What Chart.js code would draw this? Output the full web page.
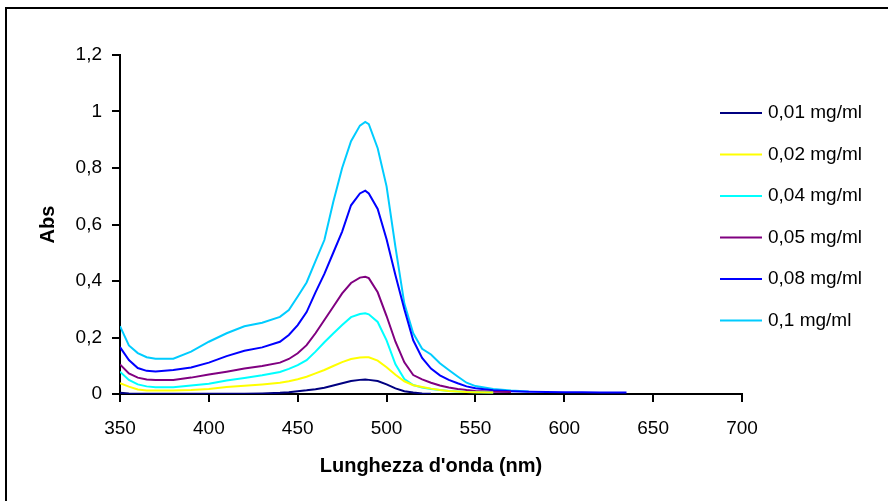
<!DOCTYPE html>
<html>
<head>
<meta charset="utf-8">
<script src="https://cdn.jsdelivr.net/npm/chart.js@4/dist/chart.umd.min.js"></script>
<style>
  body { margin: 0; background: #fff; overflow: hidden; }
  #wrap { position: relative; width: 888px; height: 501px; }
  #frame { position: absolute; left: 5px; top: 7px; width: 900px; height: 520px; border: 2px solid #000; }
  #myChart { position: absolute; left: 0; top: 0; }
</style>
</head>
<body>
<div id="wrap">
  <div id="frame"></div>
  <canvas id="myChart" width="888" height="501"></canvas>
</div>
<script>
// Spettri di assorbimento a varie concentrazioni
const wavelengths = [350,355,360,365,370,380,390,400,410,420,430,440,445,450,455,460,465,470,475,480,485,488,490,495,500,505,510,515,520,525,530,535,540,545,550,560,570,580,590,600,610,620,635];

const labels = ['0,01 mg/ml','0,02 mg/ml','0,04 mg/ml','0,05 mg/ml','0,08 mg/ml','0,1 mg/ml'];
const colors = ['#000080','#FFFF00','#00FFFF','#800080','#0000FF','#00CCFF'];

const abs001 = [0.004,0.002,0.001,0.001,0.001,0.001,0.001,0.001,0.001,0.001,0.002,0.004,0.006,0.010,0.013,0.017,0.022,0.030,0.038,0.046,0.050,0.051,0.050,0.046,0.034,0.020,0.010,0.005,0.002,0.001,null,null,null,null,null,null,null,null,null,null,null,null,null];
const abs002 = [0.038,0.026,0.016,0.012,0.012,0.012,0.014,0.018,0.025,0.029,0.034,0.040,0.045,0.052,0.061,0.073,0.085,0.099,0.113,0.124,0.129,0.130,0.130,0.118,0.095,0.068,0.045,0.031,0.025,0.019,0.014,0.011,0.009,0.007,0.006,0.005,null,null,null,null,null,null,null];
const abs004 = [0.079,0.050,0.034,0.027,0.024,0.024,0.030,0.036,0.048,0.057,0.066,0.078,0.089,0.102,0.120,0.150,0.183,0.214,0.244,0.272,0.283,0.286,0.282,0.255,0.190,0.105,0.053,0.032,0.023,0.018,0.014,0.011,0.009,0.007,0.006,0.005,null,null,null,null,null,null,null];
const abs005 = [0.105,0.073,0.058,0.051,0.050,0.050,0.058,0.069,0.079,0.090,0.099,0.111,0.124,0.144,0.173,0.215,0.262,0.309,0.356,0.393,0.412,0.415,0.410,0.360,0.276,0.185,0.112,0.067,0.052,0.040,0.030,0.023,0.018,0.014,0.011,0.008,0.007,null,null,null,null,null,null];
const abs008 = [0.166,0.120,0.092,0.082,0.080,0.085,0.094,0.111,0.134,0.153,0.165,0.185,0.209,0.244,0.290,0.360,0.425,0.500,0.575,0.668,0.710,0.720,0.710,0.655,0.548,0.420,0.300,0.190,0.128,0.090,0.066,0.050,0.038,0.027,0.020,0.013,0.010,0.008,0.007,0.006,0.006,0.005,0.005];
const abs010 = [0.240,0.172,0.145,0.130,0.125,0.125,0.150,0.185,0.215,0.240,0.252,0.273,0.297,0.345,0.395,0.470,0.545,0.680,0.800,0.895,0.950,0.963,0.955,0.870,0.735,0.520,0.320,0.215,0.160,0.140,0.109,0.085,0.062,0.040,0.028,0.018,0.012,0.009,null,null,null,null,null];

const series = [abs001, abs002, abs004, abs005, abs008, abs010];
const yTicks = [0, 0.2, 0.4, 0.6, 0.8, 1, 1.2];

const FONT = '"Liberation Sans", Arial, sans-serif';

const datasets = series.map((vals, i) => ({
  label: labels[i],
  data: wavelengths.map((w, j) => ({ x: w, y: vals[j] })),
  borderColor: colors[i],
  backgroundColor: colors[i],
  borderWidth: 2,
  pointRadius: 0,
  tension: 0,
  spanGaps: false
}));

// legenda disegnata a mano (si sovrappone all'area del grafico come in Excel)
const sideLegend = {
  id: 'sideLegend',
  afterDraw(chart) {
    const ctx = chart.ctx;
    ctx.save();
    ctx.font = '19px ' + FONT;
    ctx.textBaseline = 'middle';
    ctx.fillStyle = '#000';
    chart.data.datasets.forEach((ds, i) => {
      const y = 113 + i * 41.5;
      ctx.strokeStyle = ds.borderColor;
      ctx.lineWidth = 2;
      ctx.beginPath();
      ctx.moveTo(720, y);
      ctx.lineTo(762, y);
      ctx.stroke();
      ctx.fillText(ds.label, 768, y);
    });
    ctx.restore();
  }
};

const config = {
  type: 'line',
  data: { datasets },
  options: {
    responsive: false,
    animation: false,
    layout: { padding: { left: 0, top: 55, right: 146, bottom: 0 } },
    plugins: {
      legend: { display: false },
      tooltip: { enabled: false }
    },
    scales: {
      x: {
        type: 'linear',
        min: 350,
        max: 700,
        afterFit: s => { s.height = 107; },
        border: { color: '#000', width: 2 },
        grid: { drawOnChartArea: false, tickLength: 8, color: '#000', lineWidth: 2 },
        ticks: { stepSize: 50, color: '#000', padding: 15, font: { size: 19, family: FONT }, maxRotation: 0 },
        title: { display: true, text: "Lunghezza d'onda (nm)", color: '#000', font: { size: 20, weight: 'bold', family: FONT }, padding: { top: 0, bottom: 23 } }
      },
      y: {
        min: 0,
        max: 1.2,
        afterFit: s => { s.width = 120; },
        afterBuildTicks: s => { s.ticks = yTicks.map(v => ({ value: v })); },
        border: { color: '#000', width: 2 },
        grid: { drawOnChartArea: false, tickLength: 8, color: '#000', lineWidth: 2 },
        ticks: {
          color: '#000', padding: 10, font: { size: 19, family: FONT },
          callback: v => String(Math.round(v * 10) / 10).replace('.', ',')
        },
        title: { display: true, text: 'Abs', color: '#000', font: { size: 20, weight: 'bold', family: FONT }, padding: { top: 36, bottom: 0 } }
      }
    }
  },
  plugins: [sideLegend]
};

const myChart = new Chart(document.getElementById('myChart'), config);
</script>
</body>
</html>
